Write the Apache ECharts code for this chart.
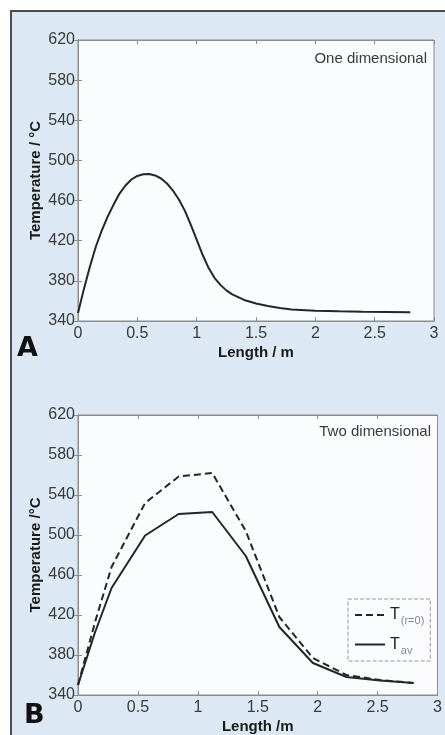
<!DOCTYPE html>
<html>
<head>
<meta charset="utf-8">
<script src="https://cdn.jsdelivr.net/npm/echarts@6/dist/echarts.min.js"></script>
<style>
  html, body { margin: 0; padding: 0; background: #ffffff; }
  /* light blue panel with the dark frame on top and left */
  #panel { position: absolute; left: 10px; top: 10px; width: 435px; height: 725px;
           background: #dce8f3; border-top: 2px solid #4d4d4d; border-left: 2px solid #4d4d4d;
           box-sizing: border-box; }
  #chart { position: absolute; left: 0; top: 0; width: 445px; height: 735px; }
</style>
</head>
<body>
<div id="panel"></div>
<div id="chart"></div>
<script>
// A: one dimensional model
const lenA = [0, 0.05, 0.1, 0.15, 0.2, 0.25, 0.3, 0.35, 0.4, 0.45, 0.5, 0.55, 0.6, 0.65, 0.7, 0.75, 0.8, 0.85, 0.9, 0.95,
  1.0, 1.05, 1.1, 1.15, 1.2, 1.25, 1.3, 1.4, 1.5, 1.6, 1.7, 1.8, 2.0, 2.2, 2.4, 2.6, 2.8];
const tempA = [348, 372, 394, 414, 430, 444, 456, 467, 475, 481, 484.5, 486.3, 486.5, 485, 482, 477, 470, 461, 450, 436,
  421, 406, 393, 383, 376, 370.5, 366.5, 361, 357.5, 355, 353, 351.5, 350.3, 349.7, 349.3, 349, 348.6];

// B: two dimensional model
const lenB = [0, 0.14, 0.28, 0.56, 0.84, 1.12, 1.40, 1.68, 1.96, 2.24, 2.52, 2.80];
const tempCentre = [350, 412, 468, 532, 558.5, 562, 504, 418, 377, 360, 355, 352];
const tempAvg = [350, 402, 447, 499.5, 521, 523, 479, 408, 372, 358, 354.5, 352];

const xMin = 0, xMax = 3, xStep = 0.5;
const yMin = 340, yMax = 620, yStep = 40;

const pairs = (xs, ys) => xs.map((x, i) => [x, ys[i]]);

var chart = echarts.init(document.getElementById('chart'));

var tickFont = { color: '#3a3a3a', fontSize: 16, fontFamily: 'Liberation Sans' };
var nameFont = { color: '#1a1a1a', fontSize: 15, fontWeight: 'bold', fontFamily: 'Liberation Sans' };
var boxLine = { show: true, lineStyle: { color: '#8c8c8c', width: 1 } };
var inTick = { show: true, inside: true, length: 4, lineStyle: { color: '#8c8c8c' } };

function xAxisFor(grid, name) {
  return [
    {
      type: 'value', gridIndex: grid, min: xMin, max: xMax, interval: xStep,
      name: name, nameLocation: 'middle', nameGap: 24, nameTextStyle: nameFont,
      axisLine: boxLine, axisTick: inTick, splitLine: { show: false },
      axisLabel: Object.assign({ margin: 5 }, tickFont)
    },
    {
      // top mirror, ticks only
      type: 'value', gridIndex: grid, position: 'top', min: xMin, max: xMax, interval: xStep,
      axisLine: boxLine, axisTick: inTick, splitLine: { show: false }, axisLabel: { show: false }
    }
  ];
}

function yAxisFor(grid, name) {
  return [
    {
      type: 'value', gridIndex: grid, min: yMin, max: yMax, interval: yStep,
      name: name, nameLocation: 'middle', nameGap: 35, nameMoveOverlap: false, nameTextStyle: nameFont,
      axisLine: boxLine, axisTick: inTick, splitLine: { show: false },
      axisLabel: Object.assign({ margin: 3 }, tickFont)
    },
    {
      // right mirror, ticks only
      type: 'value', gridIndex: grid, position: 'right', min: yMin, max: yMax, interval: yStep,
      axisLine: boxLine, axisTick: inTick, splitLine: { show: false }, axisLabel: { show: false }
    }
  ];
}

const option = {
  animation: false,
  title: [
    { text: 'One dimensional', right: 18, top: 51, padding: 0,
      textStyle: { color: '#3a3a3a', fontSize: 15, fontWeight: 'normal', fontFamily: 'Liberation Sans' } },
    { text: 'Two dimensional', right: 14, top: 424, padding: 0,
      textStyle: { color: '#3a3a3a', fontSize: 15, fontWeight: 'normal', fontFamily: 'Liberation Sans' } },
    { text: 'A', left: 17, top: 335, padding: 0,
      textStyle: { color: '#111', fontSize: 27, fontWeight: 900, fontFamily: 'DejaVu Sans' } },
    { text: 'B', left: 24, top: 702, padding: 0,
      textStyle: { color: '#111', fontSize: 27, fontWeight: 900, fontFamily: 'DejaVu Sans' } }
  ],
  grid: [
    { left: 78, top: 40, right: 11, bottom: 414, show: true, backgroundColor: '#fbfcfd', borderColor: '#8c8c8c' },
    { left: 78, top: 415, right: 5, bottom: 38, show: true, backgroundColor: '#fbfcfd', borderColor: '#8c8c8c' }
  ],
  xAxis: xAxisFor(0, 'Length / m').concat(xAxisFor(1, 'Length /m')),
  yAxis: yAxisFor(0, 'Temperature / °C').concat(yAxisFor(1, 'Temperature /°C')),
  legend: {
    orient: 'vertical', left: 348, top: 599, padding: [8, 6, 5, 6], itemGap: 10,
    itemWidth: 30, itemHeight: 14,
    itemStyle: { opacity: 0 },
    backgroundColor: '#fbfcfd', borderColor: '#999', borderWidth: 1, borderType: 'dashed',
    data: ['T(r=0)', 'Tav'],
    formatter: function (name) {
      return name === 'Tav' ? '{t|T}{s|av}' : '{t|T}{s|(r=0)}';
    },
    textStyle: {
      rich: {
        t: { fontSize: 16, color: '#222', fontFamily: 'Liberation Sans' },
        s: { fontSize: 11, color: '#888', fontFamily: 'Liberation Sans', padding: [12, 0, 0, 1] }
      }
    }
  },
  series: [
    {
      name: 'One dimensional', type: 'line', xAxisIndex: 0, yAxisIndex: 0,
      data: pairs(lenA, tempA), symbol: 'none',
      lineStyle: { color: '#262626', width: 2 }
    },
    {
      name: 'T(r=0)', type: 'line', xAxisIndex: 2, yAxisIndex: 2,
      data: pairs(lenB, tempCentre), symbol: 'none',
      itemStyle: { color: '#262626' },
      lineStyle: { color: '#262626', width: 2, type: [7, 4] }
    },
    {
      name: 'Tav', type: 'line', xAxisIndex: 2, yAxisIndex: 2,
      data: pairs(lenB, tempAvg), symbol: 'none',
      itemStyle: { color: '#262626' },
      lineStyle: { color: '#262626', width: 2 }
    }
  ]
};
chart.setOption(option);
</script>
</body>
</html>
